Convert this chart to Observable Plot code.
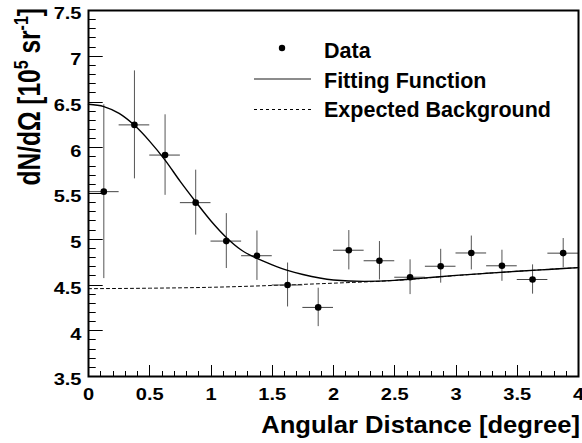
<!DOCTYPE html>
<html><head><meta charset="utf-8">
<script src="https://cdn.jsdelivr.net/npm/d3@7"></script>
<script src="https://cdn.jsdelivr.net/npm/@observablehq/plot@0.6"></script>
<style>
html,body{margin:0;padding:0;background:#fff;}
#chart{width:582px;height:443px;position:relative;}
#chart svg.ticks{position:absolute;left:0;top:0;pointer-events:none;}
</style></head><body><div id="chart"></div>
<script>
// ---- data ----
const binCenter = [0.125, 0.375, 0.625, 0.875, 1.125, 1.375, 1.625, 1.875, 2.125, 2.375, 2.625, 2.875, 3.125, 3.375, 3.625, 3.875];
const binHalfWidth = 0.125;
const dNdOmega = [5.52, 6.25, 5.92, 5.40, 4.98, 4.82, 4.50, 4.255, 4.88, 4.765, 4.585, 4.705, 4.85, 4.71, 4.56, 4.848];
const dNdOmegaErr = [0.95, 0.59, 0.44, 0.355, 0.30, 0.27, 0.24, 0.21, 0.215, 0.21, 0.19, 0.185, 0.185, 0.17, 0.16, 0.16];

const fitX = [0, 0.125, 0.25, 0.375, 0.5, 0.625, 0.75, 0.875, 1.0, 1.125, 1.25, 1.375, 1.5, 1.625, 1.75, 2.0, 2.25, 2.5, 2.75, 3.0, 3.25, 3.5, 3.75, 4.0];
const fitY = [6.475, 6.45, 6.375, 6.245, 6.07, 5.865, 5.63, 5.41, 5.20, 5.02, 4.88, 4.79, 4.72, 4.66, 4.615, 4.555, 4.54, 4.55, 4.578, 4.605, 4.628, 4.65, 4.67, 4.69];

const bgX = [0, 0.5, 1.0, 1.5, 2.0, 2.5, 3.0, 3.5, 4.0];
const bgY = [4.46, 4.465, 4.475, 4.495, 4.52, 4.55, 4.603, 4.65, 4.69];

const xTicks = [0, 0.5, 1, 1.5, 2, 2.5, 3, 3.5, 4];
const yTicks = [3.5, 4, 4.5, 5, 5.5, 6, 6.5, 7, 7.5];
const xMinorTicks = [0.1, 0.2, 0.3, 0.4, 0.6, 0.7, 0.8, 0.9, 1.1, 1.2, 1.3, 1.4, 1.6, 1.7, 1.8, 1.9, 2.1, 2.2, 2.3, 2.4, 2.6, 2.7, 2.8, 2.9, 3.1, 3.2, 3.3, 3.4, 3.6, 3.7, 3.8, 3.9];
const yMinorTicks = [3.6, 3.7, 3.8, 3.9, 4.1, 4.2, 4.3, 4.4, 4.6, 4.7, 4.8, 4.9, 5.1, 5.2, 5.3, 5.4, 5.6, 5.7, 5.8, 5.9, 6.1, 6.2, 6.3, 6.4, 6.6, 6.7, 6.8, 6.9, 7.1, 7.2, 7.3, 7.4];

const legendLabels = ["Data", "Fitting Function", "Expected Background"];
const xTitle = "Angular Distance [degree]";

// ---- tables built from the arrays ----
const points = binCenter.map((x, i) => ({x, y: dNdOmega[i], e: dNdOmegaErr[i]}));
const fit = fitX.map((x, i) => ({x, y: fitY[i]}));
const bg = bgX.map((x, i) => ({x, y: bgY[i]}));

const W = 582, H = 443, ML = 88, MR = 4, MT = 10, MB = 67;
const FONT = "'Liberation Sans', Arial, Helvetica, sans-serif";

const plot = Plot.plot({
  width: W, height: H,
  marginLeft: ML, marginRight: MR, marginTop: MT, marginBottom: MB,
  x: {domain: [0, 4], ticks: xTicks, tickSize: 0, tickPadding: 11.5, tickFormat: d => String(d), label: null},
  y: {domain: [3.5, 7.5], ticks: yTicks, tickSize: 0, tickPadding: 7, tickFormat: d => String(d), label: null},
  style: {fontFamily: FONT, fontSize: "17px", fontWeight: "bold", background: "#fff", color: "#000"},
  marks: [
    Plot.line(bg, {x: "x", y: "y", stroke: "#000", strokeWidth: 1, strokeDasharray: "3,3", curve: "monotone-x"}),
    Plot.ruleX(points, {x: "x", y1: d => d.y - d.e, y2: d => d.y + d.e, stroke: "#555", strokeWidth: 1}),
    Plot.ruleY(points, {y: "y", x1: d => d.x - binHalfWidth, x2: d => d.x + binHalfWidth, stroke: "#444", strokeWidth: 1}),
    Plot.line(fit, {x: "x", y: "y", stroke: "#000", strokeWidth: 1.4, curve: "monotone-x"}),
    Plot.dot(points, {x: "x", y: "y", r: 3.3, fill: "#000", stroke: "none"}),
    Plot.frame({stroke: "#000", strokeWidth: 2})
  ]
});

const svg = d3.select(plot);
// widen tick labels horizontally like the reference rendering; nudge y labels down a little
svg.selectAll("text").each(function() {
  const s = 1.18;
  const isY = !!this.closest("[aria-label='y-axis tick label']");
  const extra = (isY ? " translate(0,3.5)" : "") + ` scale(${s},1)`;
  const t = this.getAttribute("transform");
  if (t) {
    this.setAttribute("transform", t + extra);
  } else {
    const x = +(this.getAttribute("x") || 0), y = +(this.getAttribute("y") || 0);
    this.removeAttribute("x"); this.removeAttribute("y");
    this.setAttribute("transform", `translate(${x},${y})` + extra);
  }
});

// x axis title
svg.append("text")
  .attr("transform", "translate(580,433) scale(1.09,1)")
  .attr("text-anchor", "end")
  .attr("font-family", FONT).attr("font-weight", "bold").style("font-size", "23.5px")
  .attr("fill", "#000")
  .text(xTitle);

// y axis title with superscripts
const yt = svg.append("text")
  .attr("transform", "translate(40,8) scale(1.25,1) rotate(-90)")
  .attr("text-anchor", "end")
  .attr("font-family", FONT).attr("font-weight", "bold").style("font-size", "24.5px")
  .attr("fill", "#000");
yt.append("tspan").text("dN/dΩ [10");
yt.append("tspan").style("font-size", "16px").attr("dy", -10).text("5");
yt.append("tspan").attr("dy", 10).text(" sr");
yt.append("tspan").style("font-size", "16px").attr("dy", -10).text("-1");
yt.append("tspan").attr("dy", 10).text("]");

// legend
const lg = svg.append("g").attr("font-family", FONT).attr("font-weight", "bold").style("font-size", "21.5px").attr("text-anchor", "start");
lg.append("circle").attr("cx", 282).attr("cy", 48).attr("r", 3.2).attr("fill", "#000");
lg.append("line").attr("x1", 254).attr("x2", 311).attr("y1", 79).attr("y2", 79).attr("stroke", "#666").attr("stroke-width", 1.5);
lg.append("line").attr("x1", 254).attr("x2", 311).attr("y1", 109.5).attr("y2", 109.5).attr("stroke", "#000").attr("stroke-width", 1).attr("stroke-dasharray", "3,3");
const rowsY = [58.3, 87.5, 117];
legendLabels.forEach((t, i) => {
  lg.append("text").attr("x", 324).attr("y", rowsY[i]).attr("text-anchor", "start").attr("fill", "#000").text(t);
});

const chart = document.getElementById("chart");
chart.appendChild(plot);

// inward ticks, in an overlay positioned through Plot's own scales
const sx = plot.scale("x"), sy = plot.scale("y");
const x0 = sx.apply(0), yb = sy.apply(3.5);
const ov = d3.select(chart).append("svg").attr("class", "ticks")
  .attr("width", W).attr("height", H).attr("viewBox", `0 0 ${W} ${H}`);
const addRect = (x, y, w, h) => ov.append("rect").attr("x", x).attr("y", y).attr("width", w).attr("height", h).attr("fill", "#000");
xMinorTicks.forEach(v => addRect(Math.round(sx.apply(v)), yb - 5, 1, 5));
xTicks.forEach(v => addRect(Math.round(sx.apply(v)), yb - 11, 1, 11));
yMinorTicks.forEach(v => addRect(x0, Math.round(sy.apply(v)), 7.7, 1));
yTicks.forEach(v => addRect(x0, Math.round(sy.apply(v)), 14.7, 1));
</script>
</body></html>
